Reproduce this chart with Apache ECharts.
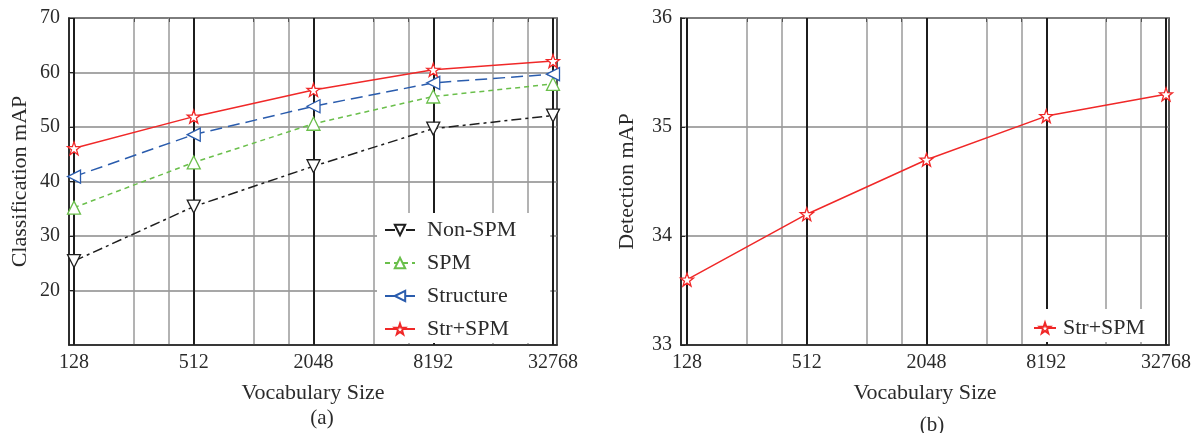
<!DOCTYPE html>
<html><head><meta charset="utf-8">
<script src="https://cdn.jsdelivr.net/npm/echarts@6/dist/echarts.min.js"></script>
<style>html,body{margin:0;padding:0;background:#fff}#c{width:1203px;height:433px}</style>
</head><body><div id="c"></div>
<script>
// ---- data ----
const vocab = [128, 512, 2048, 8192, 32768];
const majorTicks = [128, 512, 2048, 8192, 32768];
const minorTicks = [256, 384, 1024, 1536, 4096, 6144, 16384, 24576];
const nonSPM = [25.4, 35.4, 42.8, 49.7, 52.1];
const spm = [35.2, 43.5, 50.6, 55.6, 57.9];
const structure = [40.9, 48.6, 53.8, 58.1, 59.7];
const strSPM = [46.1, 51.9, 56.8, 60.5, 62.1];
const detStrSPM = [33.6, 34.2, 34.7, 35.1, 35.3];
const seriesNames = ['Non-SPM', 'SPM', 'Structure', 'Str+SPM'];

// ---- styles ----
const FONT = 'Liberation Serif';
const TXT = '#2b2b2b';
const STAR = 'path://M100 0 L123.5 67.6 L195.1 69.1 L138 112.4 L158.8 180.9 L100 140 L41.2 180.9 L62 112.4 L4.9 69.1 L76.5 67.6 Z';
const pairs = ys => vocab.map((v, i) => [v, ys[i]]);

function majorX(grid, min, max) {
  return {
    type: 'log', logBase: 2, gridIndex: grid, min: min, max: max, position: 'bottom', z: 2,
    name: 'Vocabulary Size', nameLocation: 'middle', nameGap: 37,
    nameTextStyle: {fontFamily: FONT, fontSize: 22, color: TXT},
    axisLine: {show: true, lineStyle: {color: '#222', width: 1.5}},
    axisTick: {show: true, inside: true, length: 4, customValues: majorTicks, lineStyle: {color: '#222'}},
    axisLabel: {customValues: majorTicks, fontFamily: FONT, fontSize: 20, color: TXT, margin: 8,
      formatter: v => String(Math.round(v)), showMinLabel: true, showMaxLabel: true},
    splitLine: {show: true, lineStyle: {color: '#1c1c1c', width: 2}},
    minorTick: {show: false}, minorSplitLine: {show: false}
  };
}
function minorX(grid, min, max) {
  return {
    type: 'log', logBase: 2, gridIndex: grid, min: min, max: max, position: 'top', z: 1,
    axisLine: {show: false},
    axisTick: {show: true, inside: true, length: 4, customValues: minorTicks, lineStyle: {color: '#555'}},
    axisLabel: {show: false, customValues: minorTicks},
    splitLine: {show: true, lineStyle: {color: '#9a9a9a', width: 1.5}}
  };
}
function yAx(grid, min, max, name, gap, showMin) {
  return {
    type: 'value', gridIndex: grid, min: min, max: max, interval: (max - min) > 10 ? 10 : 1,
    name: name, nameLocation: 'middle', nameGap: gap,
    nameTextStyle: {fontFamily: FONT, fontSize: 22, color: TXT},
    axisLine: {show: true, lineStyle: {color: '#222', width: 1.5}},
    axisTick: {show: true, inside: true, length: 4, lineStyle: {color: '#222'}},
    axisLabel: {fontFamily: FONT, fontSize: 20, color: TXT, margin: 9, showMinLabel: showMin},
    splitLine: {show: true, lineStyle: {color: '#8a8a8a', width: 1.5}}
  };
}
function lineSeries(name, data, xi, yi, color, dash, symbol, rot, size) {
  return {
    name: name, type: 'line', xAxisIndex: xi, yAxisIndex: yi, data: data, z: 5,
    symbol: symbol, symbolSize: size, symbolRotate: rot,
    lineStyle: {color: color, width: 1.5, type: dash},
    itemStyle: {color: '#fff', borderColor: color, borderWidth: 1.3},
    emphasis: {disabled: true}, animation: false
  };
}

const chart = echarts.init(document.getElementById('c'), null, {renderer: 'canvas'});
chart.setOption({
  backgroundColor: '#fff',
  animation: false,
  title: [
    {text: '(a)', left: 317, top: 403, textAlign: 'center', textStyle: {fontFamily: FONT, fontSize: 21, fontWeight: 'normal', color: TXT}},
    {text: '(b)', left: 927, top: 410, textAlign: 'center', textStyle: {fontFamily: FONT, fontSize: 21, fontWeight: 'normal', color: TXT}}
  ],
  grid: [
    {left: 69, top: 18, width: 488, height: 327, show: true, borderColor: '#222', borderWidth: 1.5, backgroundColor: 'transparent'},
    {left: 681, top: 18, width: 488, height: 327, show: true, borderColor: '#222', borderWidth: 1.5, backgroundColor: 'transparent'}
  ],
  xAxis: [
    majorX(0, 120.8, 34320),
    minorX(0, 120.8, 34320),
    majorX(1, 119.4, 33920),
    minorX(1, 119.4, 33920)
  ],
  yAxis: [
    yAx(0, 10, 70, 'Classification mAP', 38, false),
    yAx(1, 33, 36, 'Detection mAP', 43, true)
  ],
  legend: [
    {
      data: seriesNames, orient: 'vertical', left: 377, top: 213,
      padding: [6, 34, 3, 7], itemGap: 11, itemWidth: 30, itemHeight: 13,
      backgroundColor: '#fff', borderWidth: 0,
      textStyle: {fontFamily: FONT, fontSize: 22, color: TXT, padding: [0, 0, 0, 7]},
      selectedMode: false
    },
    {
      data: ['Str+SPM'], orient: 'vertical', left: 1023, top: 309,
      padding: [8, 16, 3, 10], itemWidth: 22, itemHeight: 13,
      backgroundColor: '#fff', borderWidth: 0,
      textStyle: {fontFamily: FONT, fontSize: 22, color: TXT, padding: [0, 0, 0, 2]},
      selectedMode: false
    }
  ],
  series: [
    lineSeries('Non-SPM', pairs(nonSPM), 0, 0, '#1e1e1e', [10, 4, 3, 4], 'triangle', 180, 13),
    lineSeries('SPM', pairs(spm), 0, 0, '#6abf4b', [5, 4], 'triangle', 0, 13),
    lineSeries('Structure', pairs(structure), 0, 0, '#2a5cad', [12, 6], 'triangle', 90, 13),
    lineSeries('Str+SPM', pairs(strSPM), 0, 0, '#f02828', 'solid', STAR, 0, 13),
    lineSeries('Str+SPM', pairs(detStrSPM), 2, 1, '#f02828', 'solid', STAR, 0, 13)
  ]
});
</script>
</body></html>
